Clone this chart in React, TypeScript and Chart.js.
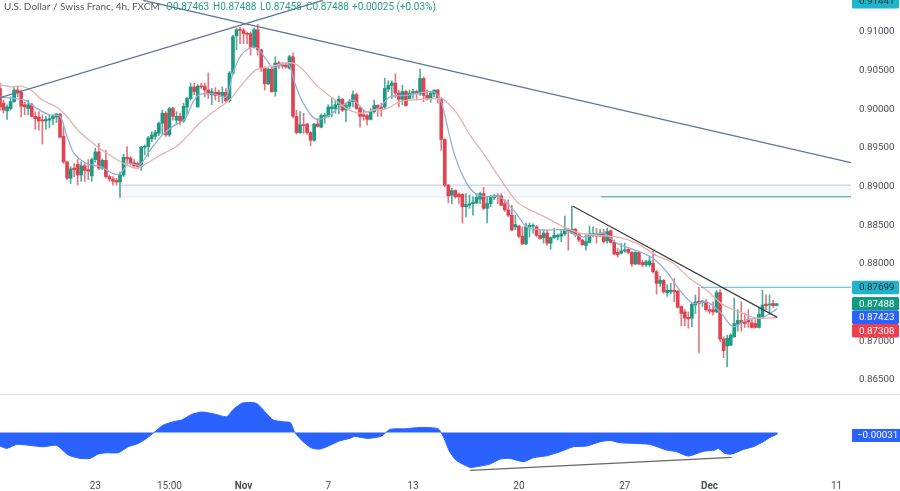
import React, { useEffect, useRef } from 'react';
import { Chart, registerables } from 'chart.js';

Chart.register(...registerables);

const opens = [
  0.9027, 0.9008, 0.8998, 0.9001, 0.9010, 0.9025, 0.9022, 0.9006, 0.9001, 0.9006,
  0.8991, 0.8990, 0.8986, 0.8985, 0.8986, 0.8988, 0.8990, 0.8994, 0.8965, 0.8932,
  0.8911, 0.8924, 0.8929, 0.8915, 0.8927, 0.8922, 0.8914, 0.8935, 0.8945, 0.8924,
  0.8934, 0.8913, 0.8910, 0.8908, 0.8906, 0.8915, 0.8938, 0.8937, 0.8931, 0.8930,
  0.8926, 0.8951, 0.8952, 0.8962, 0.8965, 0.8969, 0.8982, 0.8995, 0.8967, 0.9001,
  0.8986, 0.8991, 0.8985, 0.9003, 0.9014, 0.9029, 0.9003, 0.9030, 0.9030, 0.9025,
  0.9019, 0.9022, 0.9022, 0.9018, 0.9022, 0.9011, 0.9047, 0.9095, 0.9103, 0.9102,
  0.9098, 0.9098, 0.9080, 0.9103, 0.9077, 0.9053, 0.9033, 0.9052, 0.9023, 0.9060,
  0.9059, 0.9057, 0.9053, 0.9068, 0.8991, 0.8970, 0.8980, 0.8981, 0.8970, 0.8960,
  0.8981, 0.8977, 0.8991, 0.8991, 0.9001, 0.9001, 0.9006, 0.9013, 0.8999, 0.9004,
  0.9010, 0.9019, 0.9002, 0.8993, 0.8992, 0.8987, 0.8997, 0.9005, 0.9003, 0.9003,
  0.9026, 0.9031, 0.9034, 0.9021, 0.9013, 0.9023, 0.9014, 0.9021, 0.9023, 0.9020,
  0.9040, 0.9018, 0.9014, 0.9020, 0.9025, 0.9014, 0.8961, 0.8902, 0.8889, 0.8895,
  0.8890, 0.8890, 0.8874, 0.8876, 0.8878, 0.8879, 0.8884, 0.8891, 0.8872, 0.8878,
  0.8886, 0.8888, 0.8888, 0.8878, 0.8870, 0.8863, 0.8848, 0.8849, 0.8836, 0.8826,
  0.8848, 0.8849, 0.8848, 0.8837, 0.8834, 0.8840, 0.8827, 0.8834, 0.8835, 0.8836,
  0.8839, 0.8844, 0.8840, 0.8845, 0.8838, 0.8831, 0.8824, 0.8828, 0.8837, 0.8839,
  0.8838, 0.8840, 0.8830, 0.8843, 0.8828, 0.8815, 0.8814, 0.8817, 0.8819, 0.8815,
  0.8800, 0.8815, 0.8802, 0.8799, 0.8799, 0.8801, 0.8790, 0.8775, 0.8779, 0.8763,
  0.8764, 0.8766, 0.8765, 0.8745, 0.8738, 0.8731, 0.8730, 0.8747, 0.8752, 0.8750,
  0.8751, 0.8741, 0.8741, 0.8738, 0.8763, 0.8703, 0.8694, 0.8695, 0.8706, 0.8722,
  0.8727, 0.8725, 0.8727, 0.8724, 0.8723, 0.8718, 0.8731, 0.8748, 0.8747, 0.8749,
  0.87463,
];

const closes = [
  0.9003, 0.8999, 0.9003, 0.9010, 0.9025, 0.9021, 0.9004, 0.9003, 0.9006, 0.8991,
  0.8988, 0.8985, 0.8985, 0.8987, 0.8988, 0.8991, 0.8994, 0.8964, 0.8932, 0.8911,
  0.8923, 0.8922, 0.8915, 0.8927, 0.8921, 0.8920, 0.8935, 0.8945, 0.8924, 0.8934,
  0.8913, 0.8910, 0.8907, 0.8906, 0.8915, 0.8938, 0.8936, 0.8931, 0.8927, 0.8926,
  0.8951, 0.8952, 0.8963, 0.8967, 0.8970, 0.8982, 0.8995, 0.8967, 0.9001, 0.8991,
  0.8991, 0.8985, 0.9004, 0.9014, 0.9029, 0.9023, 0.9030, 0.9029, 0.9025, 0.9020,
  0.9023, 0.9018, 0.9019, 0.9022, 0.9011, 0.9047, 0.9094, 0.9103, 0.9102, 0.9098,
  0.9097, 0.9080, 0.9103, 0.9077, 0.9053, 0.9033, 0.9052, 0.9023, 0.9060, 0.9057,
  0.9056, 0.9055, 0.9068, 0.8991, 0.8970, 0.8980, 0.8979, 0.8970, 0.8960, 0.8981,
  0.8978, 0.8992, 0.8992, 0.9003, 0.9003, 0.9006, 0.9013, 0.8999, 0.9005, 0.9010,
  0.9019, 0.9001, 0.8991, 0.8991, 0.8987, 0.8997, 0.9005, 0.9000, 0.9000, 0.9027,
  0.9031, 0.9034, 0.9021, 0.9013, 0.9023, 0.9005, 0.9021, 0.9023, 0.9021, 0.9040,
  0.9018, 0.9014, 0.9021, 0.9025, 0.9014, 0.8961, 0.8902, 0.8888, 0.8895, 0.8887,
  0.8887, 0.8874, 0.8877, 0.8878, 0.8880, 0.8886, 0.8891, 0.8872, 0.8878, 0.8886,
  0.8888, 0.8887, 0.8876, 0.8870, 0.8863, 0.8844, 0.8851, 0.8836, 0.8826, 0.8848,
  0.8850, 0.8850, 0.8837, 0.8833, 0.8840, 0.8827, 0.8834, 0.8837, 0.8837, 0.8839,
  0.8844, 0.8843, 0.8845, 0.8838, 0.8831, 0.8825, 0.8829, 0.8839, 0.8839, 0.8836,
  0.8840, 0.8829, 0.8842, 0.8828, 0.8813, 0.8812, 0.8817, 0.8818, 0.8815, 0.8800,
  0.8815, 0.8800, 0.8799, 0.8803, 0.8804, 0.8790, 0.8775, 0.8779, 0.8764, 0.8766,
  0.8766, 0.8764, 0.8744, 0.8736, 0.8730, 0.8729, 0.8748, 0.8751, 0.8749, 0.8752,
  0.8741, 0.8739, 0.8738, 0.8763, 0.8703, 0.8688, 0.8704, 0.8708, 0.8723, 0.8727,
  0.8724, 0.8723, 0.8725, 0.8718, 0.8718, 0.8735, 0.8747, 0.8746, 0.8748, 0.8746,
  0.87488,
];

const highs = [
  0.9034, 0.9012, 0.9006, 0.9016, 0.9028, 0.9030, 0.9025, 0.9009, 0.9012, 0.9008,
  0.8997, 0.8997, 0.8993, 0.8991, 0.8993, 0.8993, 0.8995, 0.8995, 0.8978, 0.8933,
  0.8926, 0.8930, 0.8935, 0.8932, 0.8930, 0.8935, 0.8937, 0.8950, 0.8956, 0.8936,
  0.8947, 0.8915, 0.8913, 0.8911, 0.8919, 0.8942, 0.8952, 0.8939, 0.8935, 0.8932,
  0.8952, 0.8954, 0.8965, 0.8971, 0.8973, 0.8984, 0.8999, 0.8997, 0.9003, 0.9003,
  0.8997, 0.8995, 0.9008, 0.9016, 0.9034, 0.9034, 0.9032, 0.9034, 0.9034, 0.9047,
  0.9027, 0.9028, 0.9025, 0.9029, 0.9027, 0.9049, 0.9096, 0.9105, 0.9106, 0.9105,
  0.9100, 0.9100, 0.9105, 0.9110, 0.9078, 0.9055, 0.9053, 0.9055, 0.9068, 0.9062,
  0.9061, 0.9060, 0.9070, 0.9073, 0.8999, 0.8997, 0.8995, 0.8982, 0.8971, 0.8982,
  0.8988, 0.8994, 0.8995, 0.9006, 0.9014, 0.9012, 0.9017, 0.9014, 0.9008, 0.9013,
  0.9024, 0.9021, 0.9003, 0.8999, 0.8994, 0.9001, 0.9012, 0.9006, 0.9008, 0.9040,
  0.9037, 0.9037, 0.9046, 0.9025, 0.9031, 0.9025, 0.9025, 0.9026, 0.9025, 0.9052,
  0.9042, 0.9025, 0.9023, 0.9025, 0.9026, 0.9015, 0.8962, 0.8903, 0.8898, 0.8896,
  0.8892, 0.8891, 0.8891, 0.8889, 0.8887, 0.8891, 0.8893, 0.8899, 0.8887, 0.8889,
  0.8890, 0.8891, 0.8891, 0.8883, 0.8883, 0.8876, 0.8863, 0.8850, 0.8848, 0.8853,
  0.8853, 0.8852, 0.8850, 0.8844, 0.8844, 0.8844, 0.8835, 0.8846, 0.8839, 0.8844,
  0.8862, 0.8846, 0.8875, 0.8846, 0.8840, 0.8832, 0.8839, 0.8849, 0.8848, 0.8846,
  0.8845, 0.8845, 0.8846, 0.8844, 0.8831, 0.8820, 0.8827, 0.8827, 0.8820, 0.8816,
  0.8816, 0.8816, 0.8805, 0.8805, 0.8810, 0.8817, 0.8792, 0.8784, 0.8780, 0.8773,
  0.8775, 0.8781, 0.8766, 0.8746, 0.8741, 0.8738, 0.8749, 0.8760, 0.8770, 0.8753,
  0.8754, 0.8747, 0.8751, 0.8766, 0.8767, 0.8706, 0.8708, 0.8710, 0.8756, 0.8741,
  0.8751, 0.8736, 0.8741, 0.8728, 0.8728, 0.8743, 0.8766, 0.8760, 0.8760, 0.8753,
  0.87488,
];

const lows = [
  0.8999, 0.8995, 0.8987, 0.8999, 0.9009, 0.9016, 0.8990, 0.8993, 0.8993, 0.8990,
  0.8974, 0.8973, 0.8955, 0.8974, 0.8976, 0.8980, 0.8983, 0.8963, 0.8930, 0.8909,
  0.8904, 0.8913, 0.8902, 0.8907, 0.8907, 0.8909, 0.8907, 0.8932, 0.8922, 0.8922,
  0.8911, 0.8907, 0.8902, 0.8902, 0.8886, 0.8913, 0.8930, 0.8928, 0.8924, 0.8923,
  0.8921, 0.8941, 0.8939, 0.8958, 0.8961, 0.8966, 0.8967, 0.8965, 0.8965, 0.8986,
  0.8980, 0.8980, 0.8983, 0.8993, 0.9012, 0.9019, 0.9003, 0.9027, 0.9016, 0.9014,
  0.9006, 0.9012, 0.9010, 0.9008, 0.9010, 0.9009, 0.9045, 0.9077, 0.9085, 0.9085,
  0.9085, 0.9070, 0.9079, 0.9070, 0.9049, 0.9025, 0.9032, 0.9022, 0.9017, 0.9053,
  0.9053, 0.9053, 0.9052, 0.8989, 0.8968, 0.8969, 0.8969, 0.8968, 0.8953, 0.8959,
  0.8977, 0.8976, 0.8982, 0.8990, 0.8990, 0.8995, 0.8994, 0.8997, 0.8984, 0.9001,
  0.9003, 0.9000, 0.8977, 0.8986, 0.8980, 0.8986, 0.8995, 0.8991, 0.8991, 0.9001,
  0.9023, 0.9014, 0.9015, 0.9003, 0.9006, 0.9004, 0.9013, 0.9014, 0.9012, 0.9018,
  0.9010, 0.9012, 0.9009, 0.9016, 0.9008, 0.8947, 0.8900, 0.8879, 0.8878, 0.8885,
  0.8878, 0.8853, 0.8861, 0.8872, 0.8863, 0.8878, 0.8878, 0.8870, 0.8853, 0.8874,
  0.8883, 0.8878, 0.8875, 0.8868, 0.8861, 0.8843, 0.8844, 0.8834, 0.8825, 0.8825,
  0.8835, 0.8840, 0.8835, 0.8832, 0.8827, 0.8824, 0.8819, 0.8833, 0.8831, 0.8829,
  0.8837, 0.8818, 0.8839, 0.8835, 0.8829, 0.8824, 0.8818, 0.8827, 0.8835, 0.8827,
  0.8835, 0.8827, 0.8827, 0.8827, 0.8812, 0.8809, 0.8813, 0.8815, 0.8813, 0.8797,
  0.8799, 0.8799, 0.8796, 0.8797, 0.8797, 0.8788, 0.8761, 0.8771, 0.8762, 0.8758,
  0.8761, 0.8751, 0.8743, 0.8720, 0.8720, 0.8717, 0.8719, 0.8736, 0.8685, 0.8745,
  0.8739, 0.8736, 0.8734, 0.8737, 0.8700, 0.8679, 0.8667, 0.8694, 0.8705, 0.8713,
  0.8713, 0.8718, 0.8718, 0.8717, 0.8717, 0.8717, 0.8730, 0.8741, 0.8735, 0.8744,
  0.87458,
];

// moving averages, read at bar positions
const slowMa: [number, number][] = [
  [0, 0.9032], [3, 0.9029], [6, 0.9030], [9, 0.9024], [12, 0.9012], [16, 0.9003], [18.5, 0.8993], [22.5, 0.8971],
  [27.5, 0.8952], [31, 0.8941], [35, 0.8930], [38.5, 0.8924], [41.5, 0.8930], [45.5, 0.8941], [50, 0.8952], [53, 0.8965],
  [56.5, 0.8982], [60.5, 0.8997], [65, 0.9012], [68, 0.9029], [72.5, 0.9051], [76.5, 0.9055], [81, 0.9060], [83.5, 0.9059],
  [85.9, 0.9051], [89.7, 0.9031], [94.4, 0.9014], [98.2, 0.9001], [102, 0.8995], [105.7, 0.8999], [109.5, 0.9001], [113.3, 0.9010],
  [119, 0.9013], [123.7, 0.9014], [125.3, 0.9014], [129.4, 0.8995], [133.1, 0.8967], [136.9, 0.8943], [141.6, 0.8911], [146.3, 0.8881],
  [150.1, 0.8870], [153.9, 0.8862], [159.6, 0.8848], [164.3, 0.8840], [169, 0.8837], [174.7, 0.8835], [180.3, 0.8827], [186, 0.8811],
  [190.7, 0.8801], [195.5, 0.8781], [200.2, 0.8766], [204.9, 0.8747], [209.6, 0.8738], [214.3, 0.8730], [220.2, 0.87308],
];

const fastMa: [number, number][] = [
  [0, 0.9016], [4, 0.9014], [7, 0.9012], [10.5, 0.9001], [14, 0.8993], [17, 0.8991], [19, 0.8965], [21, 0.8943],
  [24.5, 0.8930], [28.5, 0.8926], [32, 0.8917], [34, 0.8917], [36.5, 0.8930], [39.5, 0.8928], [42.5, 0.8947], [46, 0.8967],
  [49, 0.8978], [52.5, 0.8988], [54.5, 0.9008], [56.5, 0.9019], [60.5, 0.9020], [64, 0.9016], [66, 0.9047], [68, 0.9068],
  [71, 0.9080], [73, 0.9079], [75.5, 0.9064], [77.4, 0.9054], [81.6, 0.9059], [83.5, 0.9034], [85.9, 0.9008], [89.2, 0.8988],
  [92.5, 0.8990], [96.3, 0.9003], [100, 0.9012], [103.8, 0.8997], [107.6, 0.9003], [110.4, 0.9016], [115.2, 0.9018], [122.7, 0.9023],
  [124.6, 0.9014], [125.6, 0.9000], [128.4, 0.8947], [131.2, 0.8913], [134.1, 0.8893], [137.4, 0.8887], [141.6, 0.8887], [146.3, 0.8865],
  [149.2, 0.8848], [153.9, 0.8844], [159.6, 0.8844], [165.2, 0.8835], [170.9, 0.8840], [174.7, 0.8827], [182.2, 0.8814], [185.1, 0.8807],
  [188.9, 0.8790], [192.6, 0.8766], [196.4, 0.8749], [200.2, 0.8751], [204, 0.8738], [207.7, 0.8719], [211.5, 0.8728], [216.2, 0.8731],
  [220.2, 0.87423],
];

const oscillator: [number, number][] = [
  [0, -0.00273], [1.9, -0.0032], [4.7, -0.0024], [8.5, -0.0026], [12.3, -0.00287], [16, -0.0026], [19.4, -0.00454], [22.7, -0.0052],
  [25.5, -0.0052], [27.8, -0.00434], [30.2, -0.00407], [33.5, -0.00407], [36.3, -0.00287], [39.2, -0.0022], [41.5, -0.0012], [43.9, 0.00013],
  [46.3, 0.00147], [49.1, 0.00213], [51.4, 0.00247], [54.3, 0.0036], [57.1, 0.00407], [60.4, 0.00374], [64.2, 0.00313], [66.1, 0.0046],
  [68.4, 0.0058], [70.3, 0.006], [72.7, 0.0058], [75.5, 0.0038], [77.4, 0.00247], [80.2, 0.00213], [82.3, 0.00193], [83.5, 0],
  [85.9, -0.00187], [88.3, -0.00313], [90.6, -0.00334], [93, -0.00273], [96.3, -0.00167], [99.1, -0.0012], [100.5, -0.0008], [104.3, -0.0012],
  [108.1, -0.00073], [110.4, 0.0006], [114.7, 0.00073], [119.4, 0.001], [124.1, 0.00073], [125.6, -0.00087], [127.4, -0.00387], [129.4, -0.00567],
  [133.2, -0.007], [136, -0.00674], [138.8, -0.00634], [141.7, -0.00534], [144.5, -0.0052], [148.3, -0.00587], [151.1, -0.00507], [154.9, -0.00467],
  [158.7, -0.00387], [162.4, -0.00287], [166.2, -0.00273], [170, -0.00187], [172.8, -0.0016], [175.6, -0.00207], [179.4, -0.0022], [184.1, -0.0024],
  [188.9, -0.00354], [191.7, -0.00387], [195, -0.00474], [199.2, -0.0038], [202.5, -0.00354], [203.5, -0.0032], [205.4, -0.0042], [207.3, -0.00434],
  [210.6, -0.0034], [213.4, -0.00287], [216.2, -0.00187], [218.1, -0.001], [220.3, -0.00031],
];

// drawings on the price pane
const risingLine: [number, number][] = [[0, 0.9015], [91.5, 0.9141]];
const fallingLine: [number, number][] = [[40.6, 0.9141], [241.08, 0.8931]];
const channelLine: [number, number][] = [[162.2, 0.8875], [220.2, 0.8731]];
const resistanceLine: [number, number][] = [[198.5, 0.87699], [241.08, 0.87699]];
const supportLine: [number, number][] = [[170.2, 0.8887], [241.08, 0.8887]];
const zoneTop: [number, number][] = [[34, 0.8902], [241.08, 0.8902]];
const zoneBottom: [number, number][] = [[34, 0.8887], [241.08, 0.8887]];
const zoneEdge: [number, number][] = [[34, 0.8902], [34, 0.8887]];
const oscTrendLine: [number, number][] = [[133.2, -0.0076], [207.3, -0.005]];

const priceTicks = [0.91, 0.905, 0.9, 0.895, 0.89, 0.885, 0.88, 0.875, 0.87, 0.865];
const timeTicks = [27, 48, 69, 93, 117, 147, 177, 201, 237];
const timeLabels = ['23', '15:00', 'Nov', '7', '13', '20', '27', 'Dec', '11'];

const axisTags = [
  { text: '0.91441', value: 0.91441, bg: '#1db4cc', fg: '#333333' },
  { text: '0.87699', value: 0.87699, bg: '#1db4cc', fg: '#333333' },
  { text: '0.87488', value: 0.87488, bg: '#129a7f', fg: '#ffffff' },
  { text: '0.87423', value: 0.87423, bg: '#2962ff', fg: '#ffffff' },
  { text: '0.87308', value: 0.87308, bg: '#ee3f4e', fg: '#ffffff' },
];

const UP = '#1c9a82';
const DOWN = '#e0434f';
const UP_WICK = '#52ad9c';
const DOWN_WICK = '#e4767f';
const TITLE_FONT = 'Lato, "Open Sans", sans-serif';
const AXIS_FONT = 'Roboto, "Open Sans", sans-serif';

const toPoints = (pairs: [number, number][]) => pairs.map(([x, y]) => ({ x, y }));

const overlayPlugin = {
  id: 'overlay',
  afterDraw(chart: any) {
    const { ctx } = chart;
    const y = chart.scales.y;
    const y2 = chart.scales.y2;
    ctx.save();

    // pane separator
    ctx.strokeStyle = '#e6e7ea';
    ctx.lineWidth = 1;
    ctx.beginPath();
    ctx.moveTo(0, y.bottom + 0.5);
    ctx.lineTo(900, y.bottom + 0.5);
    ctx.stroke();

    // header
    ctx.font = `10px ${TITLE_FONT}`;
    ctx.textBaseline = 'middle';
    ctx.textAlign = 'left';
    ctx.fillStyle = '#55585f';
    ctx.fillText('U.S. Dollar / Swiss Franc, 4h, FXCM', 4, 7);
    const parts = [
      ['O', 166, '0.87463'],
      ['H', 213, '0.87488'],
      ['L', 260, '0.87458'],
      ['C', 306, '0.87488'],
    ];
    ctx.font = `10px ${AXIS_FONT}`;
    ctx.fillStyle = '#2a9d88';
    parts.forEach(([k, px, v]: any) => ctx.fillText(k + v, px, 7));
    ctx.fillText('+0.00025 (+0.03%)', 352, 7);

    // value tags on the right axis
    ctx.font = `9.8px ${AXIS_FONT}`;
    let prevBottom = -100;
    axisTags.forEach((tag) => {
      let top = Math.max(y.getPixelForValue(tag.value) - 6.5, -5);
      if (top < prevBottom) top = prevBottom;
      ctx.fillStyle = tag.bg;
      ctx.beginPath();
      ctx.roundRect(852, top, 47, 13.5, 1.5);
      ctx.fill();
      ctx.fillStyle = tag.fg;
      ctx.fillText(tag.text, 859, top + 7);
      prevBottom = top + 13.5;
    });

    const oscY = y2.getPixelForValue(-0.00031) + 1.5;
    ctx.fillStyle = '#2962ff';
    ctx.fillRect(852, oscY - 6.5, 48, 13);
    ctx.fillStyle = '#ffffff';
    ctx.fillText('\u22120.00031', 857, oscY + 0.5);
    ctx.restore();
  },
};

const line = (pairs: [number, number][], color: string, extra: any = {}) => ({
  type: 'line',
  data: toPoints(pairs),
  borderColor: color,
  borderWidth: 1,
  pointRadius: 0,
  tension: 0,
  fill: false,
  yAxisID: 'y',
  ...extra,
});

export default function App() {
  const canvasRef = useRef<HTMLCanvasElement>(null);

  useEffect(() => {
    if (!canvasRef.current) return;
    const bodyColors = closes.map((c, i) => (c >= opens[i] ? UP : DOWN));
    const wickColors = closes.map((c, i) => (c >= opens[i] ? UP_WICK : DOWN_WICK));

    const chart = new Chart(canvasRef.current, {
      type: 'bar',
      plugins: [overlayPlugin],
      data: {
        datasets: [
          line(zoneTop, '#bccada', { fill: '+1', backgroundColor: '#f6f8fd', order: 10 }),
          line(zoneBottom, '#bccada', { order: 10 }),
          line(zoneEdge, '#bccada', { order: 10 }),
          {
            type: 'bar',
            data: lows.map((l, i) => ({ x: i, y: [l, highs[i]] })),
            backgroundColor: wickColors,
            barThickness: 1,
            grouped: false,
            yAxisID: 'y',
            order: 6,
          },
          {
            type: 'bar',
            data: opens.map((o, i) => ({ x: i, y: [o, closes[i]] })),
            backgroundColor: bodyColors,
            barThickness: 3,
            minBarLength: 1,
            grouped: false,
            yAxisID: 'y',
            order: 5,
          },
          line(slowMa, '#e8b0ad', { tension: 0.3, borderWidth: 1.3, order: 4 }),
          line(fastMa, '#97aed8', { tension: 0.3, borderWidth: 1.3, order: 4 }),
          line(risingLine, '#5d7499', { borderWidth: 1.2, order: 3 }),
          line(fallingLine, '#5d7499', { borderWidth: 1.2, order: 3 }),
          line(channelLine, '#3d3d3d', { borderWidth: 1.2, order: 3 }),
          line(resistanceLine, '#4fb8c6', { order: 3 }),
          line(supportLine, '#3fa596', { borderWidth: 1.2, order: 3 }),
          line(oscillator, '#2962ff', {
            yAxisID: 'y2',
            fill: 'origin',
            backgroundColor: '#2962ff',
            tension: 0.2,
            order: 3,
          }),
          line(oscTrendLine, '#666666', { yAxisID: 'y2', borderWidth: 1.2, order: 2 }),
        ] as any,
      },
      options: {
        responsive: false,
        animation: false,
        layout: { padding: 0 },
        plugins: { legend: { display: false }, tooltip: { enabled: false }, title: { display: false } },
        scales: {
          x: {
            type: 'linear',
            min: 0,
            max: 241.08,
            offset: false,
            grid: { display: false, drawTicks: false },
            border: { display: false },
            afterBuildTicks: (axis: any) => {
              axis.ticks = timeTicks.map((value) => ({ value }));
            },
            afterFit: (axis: any) => {
              axis.height = 13;
              axis.paddingLeft = 0;
              axis.paddingRight = 0;
            },
            ticks: {
              autoSkip: false,
              maxRotation: 0,
              padding: 2,
              color: '#4a4d55',
              font: (ctx: any) => {
                const label = timeLabels[timeTicks.indexOf(ctx.tick?.value)];
                const month = label === 'Nov' || label === 'Dec';
                return { family: AXIS_FONT, size: 10, weight: month ? 'bold' : 'normal' };
              },
              callback: (value: any) => timeLabels[timeTicks.indexOf(value)],
            },
          },
          y: {
            type: 'linear',
            position: 'right',
            stack: 'panes',
            stackWeight: 394,
            min: 0.86319,
            max: 0.91414,
            grid: { display: false, drawTicks: false },
            border: { display: false },
            afterBuildTicks: (axis: any) => {
              axis.ticks = priceTicks.map((value) => ({ value }));
            },
            afterFit: (axis: any) => {
              axis.width = 49;
              axis.paddingTop = 0;
              axis.paddingBottom = 0;
            },
            ticks: {
              padding: 8,
              color: '#4a4d55',
              font: { family: AXIS_FONT, size: 9.8 },
              callback: (value: any) => Number(value).toFixed(5),
            },
          },
          y2: {
            type: 'linear',
            position: 'right',
            stack: 'panes',
            stackWeight: 84,
            min: -0.00912,
            max: 0.00768,
            grid: { display: false, drawTicks: false },
            border: { display: false },
            afterFit: (axis: any) => {
              axis.width = 49;
              axis.paddingTop = 0;
              axis.paddingBottom = 0;
            },
            ticks: { display: false },
          },
        },
      } as any,
    });

    return () => {
      chart.destroy();
    };
  }, []);

  return (
    <div style={{ position: 'absolute', left: 0, top: 0, width: 900, height: 491, background: '#ffffff', overflow: 'hidden' }}>
      <canvas ref={canvasRef} width={900} height={491} style={{ display: 'block' }} />
    </div>
  );
}
